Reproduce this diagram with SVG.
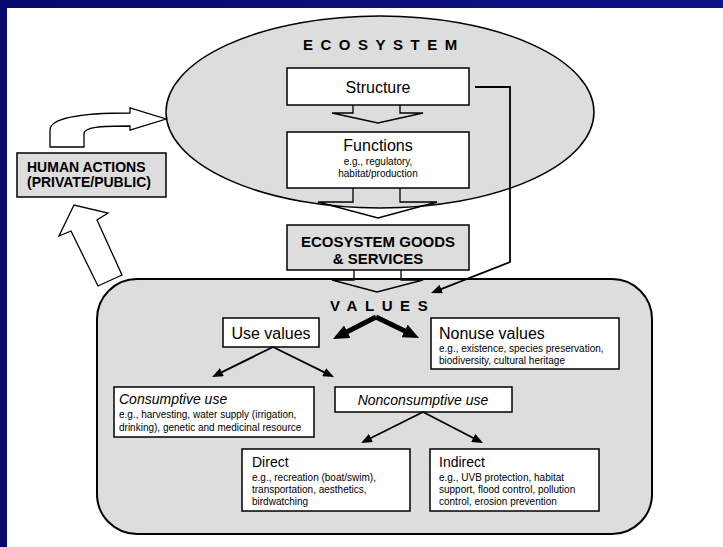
<svg xmlns="http://www.w3.org/2000/svg" width="723" height="547" viewBox="0 0 723 547">
<defs>
<linearGradient id="bg" x1="0" y1="0" x2="1" y2="0">
<stop offset="0" stop-color="#07086a"/>
<stop offset="1" stop-color="#0c1488"/>
</linearGradient>
<marker id="ah" markerUnits="userSpaceOnUse" markerWidth="11" markerHeight="9" refX="5" refY="4.5" orient="auto">
<path d="M0,0 L11,4.5 L0,9 z" fill="#000"/>
</marker>
<marker id="ahb" markerUnits="userSpaceOnUse" markerWidth="16" markerHeight="14" refX="6" refY="7" orient="auto">
<path d="M0,0 L16,7 L0,14 z" fill="#000"/>
</marker>
</defs>
<style>
text{font-family:"Liberation Sans",Arial,sans-serif;fill:#000}
.box{fill:#fff;stroke:#000;stroke-width:1.5}
.gbox{fill:#dddddd;stroke:#000;stroke-width:1.5}
.blk{fill:none;stroke:#000;stroke-width:1.3;stroke-linejoin:miter}
.wblk{fill:#fff;stroke:#000;stroke-width:1.3}
.ln{fill:none;stroke:#000;stroke-width:1.8}
.thick{fill:none;stroke:#000;stroke-width:5}
.t16{font-size:16px}
.t14{font-size:14px}
.t10{font-size:10px}
.b{font-weight:bold}
.i{font-style:italic}
.mid{text-anchor:middle}
</style>
<rect x="0" y="0" width="723" height="547" fill="url(#bg)"/>
<rect x="7" y="8" width="716" height="539" fill="#fff"/>

<g id="ecosystem">
<ellipse cx="380" cy="112" rx="214" ry="96" fill="#dddddd" stroke="#000" stroke-width="1.5"/>
<text x="303" y="50" class="b" font-size="15" letter-spacing="7.5">ECOSYSTEM</text>
</g>

<g id="values">
<rect x="97" y="279" width="555" height="255" rx="40" ry="40" fill="#dddddd" stroke="#000" stroke-width="2"/>
<text x="330" y="311" class="b" font-size="15" letter-spacing="7.6">VALUES</text>
</g>

<g id="structure">
<rect class="box" x="287" y="68" width="182" height="37"/>
<text x="378" y="93" class="t16 mid">Structure</text>
</g>

<g id="functions">
<rect class="box" x="287" y="132" width="182" height="56"/>
<text x="378" y="151" class="t16 mid">Functions</text>
<text x="378" y="165" class="t10 mid">e.g., regulatory,</text>
<text x="378" y="177" class="t10 mid">habitat/production</text>
</g>

<g id="goods">
<rect class="gbox" x="287" y="225" width="182" height="45"/>
<text x="378" y="247" class="b mid" font-size="15">ECOSYSTEM GOODS</text>
<text x="378" y="264" class="b mid" font-size="15">&amp; SERVICES</text>
</g>

<g id="human">
<rect class="gbox" x="17" y="153" width="149" height="44"/>
<text x="27" y="172" class="b t14">HUMAN ACTIONS</text>
<text x="27" y="187" class="b t14">(PRIVATE/PUBLIC)</text>
</g>

<g id="use">
<rect class="box" x="223" y="318" width="96" height="29"/>
<text x="271" y="339" class="t16 mid">Use values</text>
</g>

<g id="nonuse">
<rect class="box" x="431" y="318" width="188" height="51"/>
<text x="439" y="339" class="t16">Nonuse values</text>
<text x="439" y="352" class="t10">e.g., existence, species preservation,</text>
<text x="439" y="364" class="t10">biodiversity, cultural heritage</text>
</g>

<g id="consumptive">
<rect class="box" x="114" y="387" width="200" height="50"/>
<text x="119" y="404" class="t14 i">Consumptive use</text>
<text x="119" y="418" class="t10">e.g., harvesting, water supply (irrigation,</text>
<text x="119" y="431" class="t10">drinking), genetic and medicinal resource</text>
</g>

<g id="nonconsumptive">
<rect class="box" x="335" y="387" width="177" height="25"/>
<text x="423" y="405" class="t14 i mid">Nonconsumptive use</text>
</g>

<g id="direct">
<rect class="box" x="242" y="449" width="168" height="62"/>
<text x="252" y="467" class="t14">Direct</text>
<text x="252" y="481" class="t10">e.g., recreation (boat/swim),</text>
<text x="252" y="493" class="t10">transportation, aesthetics,</text>
<text x="252" y="505" class="t10">birdwatching</text>
</g>

<g id="indirect">
<rect class="box" x="430" y="449" width="169" height="62"/>
<text x="439" y="467" class="t14">Indirect</text>
<text x="439" y="481" class="t10">e.g., UVB protection, habitat</text>
<text x="439" y="493" class="t10">support, flood control, pollution</text>
<text x="439" y="505" class="t10">control, erosion prevention</text>
</g>

<g id="connectors">
<path class="blk" d="M353,105 L353,113 L332,113 L378,123 L423,113 L400,113 L400,105"/>
<path class="blk" d="M353,188 L353,202 L318,202 L378,218 L437,202 L400,202 L400,188"/>
<path class="blk" d="M354,270 L354,280 L332,280 L377,292 L423,280 L401,280 L401,270"/>
<path class="wblk" d="M50,147 L50,130 C50,118 80,113 130,113 L130,108 L166,119 L130,130 L130,126 C100,126 84,127 84,134 L84,147 Z"/>
<path class="wblk" d="M98,286 L122,275 L97,220 L108,213 L74,205 L59,236 L71,231 Z"/>
<path class="ln" stroke-width="2" d="M475,87 L510,87 L510,262 L436.6,290.8" marker-end="url(#ah)"/>
<path class="thick" d="M376,317 L341.9,334.45" marker-end="url(#ahb)"/>
<path class="thick" d="M376,317 L410,333.6" marker-end="url(#ahb)"/>
<path class="ln" d="M273,347 L217.4,374.4" marker-end="url(#ah)"/>
<path class="ln" d="M273,347 L328.6,374.4" marker-end="url(#ah)"/>
<path class="ln" d="M423,412 L366.4,440.3" marker-end="url(#ah)"/>
<path class="ln" d="M423,412 L477.7,440.2" marker-end="url(#ah)"/>
</g>
</svg>
